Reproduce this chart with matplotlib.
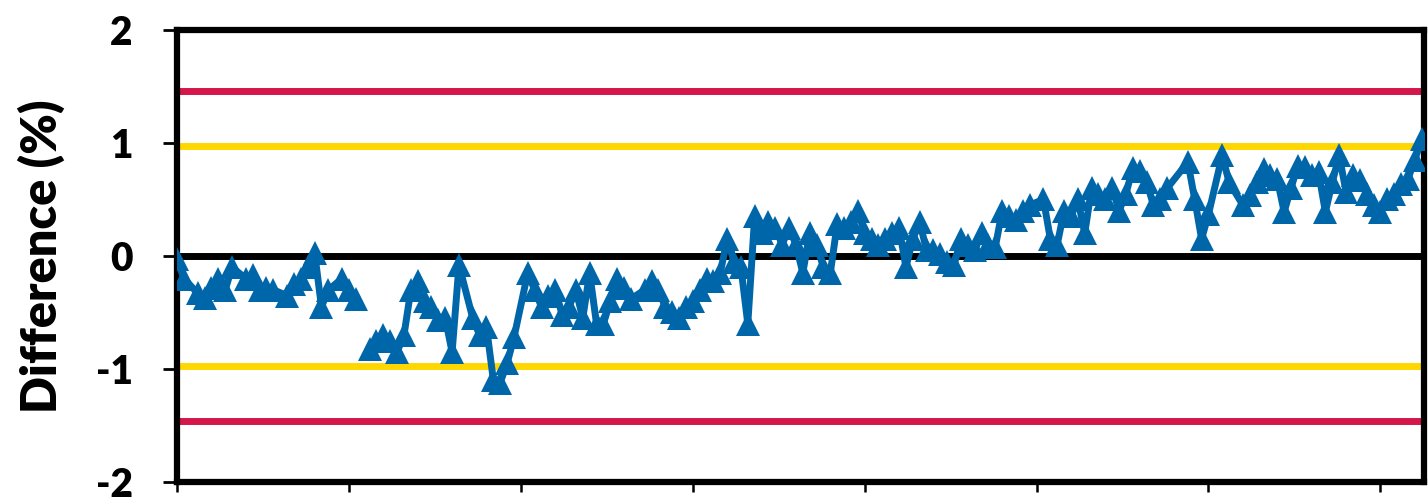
import matplotlib
matplotlib.use("Agg")
import matplotlib.pyplot as plt
import numpy as np

plt.rcParams["axes.unicode_minus"] = False

# day of measurement and percent difference (nan = run missing)
day = [0, 1, 3, 4, 5, 6, 7, 8, 10, 11,
       12, 13, 14, 16, 17, 18, 19, 20, 21, 22,
       24, 25, 26, 27, 28, 29, 30, 31, 32, 33,
       34, 35, 36, 37, 38, 39, 40, 41, 43, 44,
       45, 46, 47, 48, 49, 51, 52, 53, 54, 55,
       56, 57, 58, 59, 60, 61, 62, 63, 64, 65,
       66, 68, 69, 70, 71, 72, 73, 74, 75, 76,
       77, 78, 79, 80, 81, 82, 83, 84, 85, 86,
       87, 88, 89, 90, 91, 92, 93, 94, 95, 96,
       97, 98, 99, 100, 101, 102, 103, 104, 105, 106,
       107, 108, 109, 110, 111, 112, 113, 114, 115, 116,
       117, 118, 119, 120, 121, 122, 123, 124, 126, 127,
       128, 129, 130, 131, 132, 133, 134, 135, 136, 137,
       138, 139, 140, 141, 142, 143, 144, 147, 148, 149,
       150, 152, 153, 155, 156, 157, 158, 159, 160, 161,
       162, 163, 164, 165, 166, 167, 168, 169, 170, 171,
       172, 173, 174, 175, 176, 177, 178, 179, 180, 181]

diff = [-0.03, -0.2, -0.33, -0.37, -0.28, -0.2, -0.3, -0.1, -0.2, -0.17,
        -0.3, -0.28, -0.3, -0.35, -0.25, -0.2, -0.1, 0.03, -0.45, -0.3,
        -0.2, -0.3, -0.38, np.nan, -0.82, -0.75, -0.7, -0.75, -0.85, -0.7,
        -0.3, -0.22, -0.4, -0.45, -0.57, -0.55, -0.85, -0.08, -0.55, -0.7,
        -0.63, -1.1, -1.12, -0.95, -0.72, -0.15, -0.3, -0.45, -0.35, -0.3,
        -0.52, -0.45, -0.3, -0.55, -0.15, -0.6, -0.6, -0.4, -0.2, -0.28,
        -0.38, -0.3, -0.22, -0.3, -0.45, -0.5, -0.55, -0.45, -0.4, -0.3,
        -0.2, -0.22, -0.15, 0.15, -0.05, -0.1, -0.6, 0.35, 0.2, 0.3,
        0.25, 0.1, 0.25, 0.1, -0.15, 0.2, 0.1, -0.1, -0.15, 0.28,
        0.25, 0.3, 0.4, 0.2, 0.15, 0.1, 0.15, 0.2, 0.25, -0.1,
        0.15, 0.3, 0.05, 0.05, 0.02, -0.05, -0.08, 0.15, 0.1, 0.05,
        0.2, 0.1, 0.08, 0.4, 0.35, 0.32, 0.4, 0.45, 0.5, 0.15,
        0.1, 0.4, 0.35, 0.5, 0.2, 0.6, 0.55, 0.5, 0.6, 0.4,
        0.55, 0.78, 0.75, 0.65, 0.45, 0.5, 0.6, 0.83, 0.5, 0.15,
        0.37, 0.89, 0.65, 0.45, 0.54, 0.65, 0.77, 0.72, 0.68, 0.39,
        0.6, 0.8, 0.79, 0.72, 0.74, 0.39, 0.65, 0.89, 0.57, 0.72,
        0.67, 0.55, 0.45, 0.39, 0.5, 0.55, 0.64, 0.68, 0.85, 1.03]

warn_limit = 0.97
action_limit = 1.46

fig = plt.figure(figsize=(14.28, 4.97), dpi=100)
ax = fig.add_axes([0.124, 0.030, 0.873, 0.910])

ax.axhline(0, color="black", lw=5, zorder=2)
for lim in (warn_limit, -warn_limit):
    ax.axhline(lim, color="#FFD700", lw=5, zorder=2)
for lim in (action_limit, -action_limit):
    ax.axhline(lim, color="#D4164A", lw=5, zorder=2)

ax.plot(day, diff, color="#0066AA", lw=5, marker="^", ms=17,
        markeredgewidth=0, zorder=3)

ax.set_xlim(0, 181.3)
ax.set_ylim(-2, 2)
ax.set_yticks([-2, -1, 0, 1, 2])
ax.set_xticks(np.arange(0, 180, 25))
ax.set_xticklabels([])

for s in ax.spines.values():
    s.set_linewidth(4.5)
ax.tick_params(axis="y", direction="out", length=10, width=2, pad=22,
               labelsize=28)
ax.tick_params(axis="x", direction="out", length=7, width=1.8)
for t in ax.get_yticklabels():
    t.set_fontfamily("Lato")
    t.set_fontweight("heavy")

ax.set_ylabel("Difference (%)", fontsize=35, fontweight="heavy",
              fontfamily="Lato")
ax.yaxis.set_label_coords(-0.090, 0.5)

fig.savefig("out.png", dpi=100)
